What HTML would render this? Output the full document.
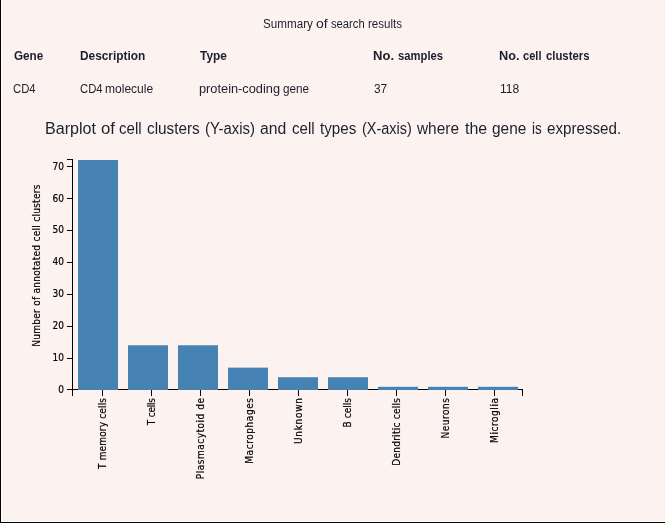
<!DOCTYPE html>
<html>
<head>
<meta charset="utf-8">
<title>Summary of search results</title>
<style>
html,body{margin:0;padding:0;}
body{width:665px;height:524px;overflow:hidden;background:#fcf3f1;position:relative;font-family:"Liberation Sans",sans-serif;color:#1c1f2c;}
#bl{position:absolute;left:0;top:0;width:1px;height:523px;background:#000;}
#bl2{position:absolute;left:1px;top:0;width:1px;height:522px;background:#fff;}
#bw{position:absolute;left:1px;top:521px;width:664px;height:1px;background:#fff;}
#bb{position:absolute;left:0;top:522px;width:665px;height:1px;background:#000;}
#bb2{position:absolute;left:0;top:523px;width:665px;height:1px;background:#fff;}
.t{position:absolute;white-space:nowrap;line-height:1;transform-origin:0 50%;}
.w{position:absolute;left:0;top:0;white-space:nowrap;transform-origin:0 50%;}
.s13{font-size:12px;}
.b{font-weight:bold;}
#title{font-size:16px;}
svg{position:absolute;left:0;top:0;}
svg text{font-family:"DejaVu Sans Condensed","DejaVu Sans","Liberation Sans",sans-serif;font-stretch:condensed;font-size:10px;fill:#000;stroke:#000;stroke-width:0.18px;}
</style>
</head>
<body>
<div id="bl"></div><div id="bl2"></div><div id="bw"></div><div id="bb"></div><div id="bb2"></div>

<div class="t s13" id="cap" style="left:0;top:18px;"><span class="w" style="left:262.71px;transform:scaleX(0.9714)">Summary</span> <span class="w" style="left:316.12px;transform:scaleX(1.1684)">of</span> <span class="w" style="left:330.77px;transform:scaleX(0.9343)">search</span> <span class="w" style="left:368.18px;transform:scaleX(0.9606)">results</span></div>

<div class="t s13 b" id="h1" style="left:0;top:50px;"><span class="w" style="left:13.51px;transform:scaleX(0.9744)">Gene</span></div>
<div class="t s13 b" id="h2" style="left:0;top:50px;"><span class="w" style="left:79.56px;transform:scaleX(0.9891)">Description</span></div>
<div class="t s13 b" id="h3" style="left:0;top:50px;"><span class="w" style="left:200.10px;transform:scaleX(0.9907)">Type</span></div>
<div class="t s13 b" id="h4" style="left:0;top:50px;"><span class="w" style="left:373.28px;transform:scaleX(1.0873)">No.</span> <span class="w" style="left:397.73px;transform:scaleX(0.9376)">samples</span></div>
<div class="t s13 b" id="h5" style="left:0;top:50px;"><span class="w" style="left:499.31px;transform:scaleX(1.0592)">No.</span> <span class="w" style="left:523.24px;transform:scaleX(0.9227)">cell</span> <span class="w" style="left:545.53px;transform:scaleX(0.9436)">clusters</span></div>

<div class="t s13" id="c1" style="left:0;top:83px;"><span class="w" style="left:13.43px;transform:scaleX(0.9419)">CD4</span></div>
<div class="t s13" id="c2" style="left:0;top:83px;"><span class="w" style="left:79.53px;transform:scaleX(0.9419)">CD4</span> <span class="w" style="left:105.15px;transform:scaleX(1.0032)">molecule</span></div>
<div class="t s13" id="c3" style="left:0;top:83px;"><span class="w" style="left:199.30px;transform:scaleX(1.0658)">protein-coding</span> <span class="w" style="left:282.91px;transform:scaleX(0.9786)">gene</span></div>
<div class="t s13" id="c4" style="left:0;top:83px;"><span class="w" style="left:373.61px;transform:scaleX(0.9878)">37</span></div>
<div class="t s13" id="c5" style="left:0;top:83px;"><span class="w" style="left:500.05px;transform:scaleX(1.0000)">118</span></div>

<div class="t" id="title" style="left:0;top:121px;"><span class="w" style="left:44.74px;transform:scaleX(1.0040)">Barplot</span> <span class="w" style="left:100.68px;transform:scaleX(1.0462)">of</span> <span class="w" style="left:119.23px;transform:scaleX(0.9422)">cell</span> <span class="w" style="left:146.92px;transform:scaleX(0.9574)">clusters</span> <span class="w" style="left:204.97px;transform:scaleX(0.9295)">(Y-axis)</span> <span class="w" style="left:260.31px;transform:scaleX(0.9822)">and</span> <span class="w" style="left:291.63px;transform:scaleX(0.9422)">cell</span> <span class="w" style="left:319.56px;transform:scaleX(0.9493)">types</span> <span class="w" style="left:361.60px;transform:scaleX(0.9033)">(X-axis)</span> <span class="w" style="left:417.40px;transform:scaleX(0.9628)">where</span> <span class="w" style="left:464.75px;transform:scaleX(0.9953)">the</span> <span class="w" style="left:491.92px;transform:scaleX(0.9652)">gene</span> <span class="w" style="left:531.66px;transform:scaleX(0.8400)">is</span> <span class="w" style="left:546.93px;transform:scaleX(0.9469)">expressed.</span></div>

<svg width="665" height="524" viewBox="0 0 665 524">
  <g fill="none" stroke="#000" stroke-width="1" shape-rendering="crispEdges">
    <path d="M66.5,159.5H72.5V389.5H66.5"/>
    <path d="M72.5,395.5V389.5H522.5V395.5"/>
    <line x1="66.5" x2="72.5" y1="389.5" y2="389.5"/>
    <line x1="66.5" x2="72.5" y1="358.5" y2="358.5"/>
    <line x1="66.5" x2="72.5" y1="326.5" y2="326.5"/>
    <line x1="66.5" x2="72.5" y1="294.5" y2="294.5"/>
    <line x1="66.5" x2="72.5" y1="262.5" y2="262.5"/>
    <line x1="66.5" x2="72.5" y1="230.5" y2="230.5"/>
    <line x1="66.5" x2="72.5" y1="198.5" y2="198.5"/>
    <line x1="66.5" x2="72.5" y1="166.5" y2="166.5"/>
    <line x1="102.5" x2="102.5" y1="389.5" y2="395.5"/>
    <line x1="151.5" x2="151.5" y1="389.5" y2="395.5"/>
    <line x1="200.5" x2="200.5" y1="389.5" y2="395.5"/>
    <line x1="249.5" x2="249.5" y1="389.5" y2="395.5"/>
    <line x1="298.5" x2="298.5" y1="389.5" y2="395.5"/>
    <line x1="347.5" x2="347.5" y1="389.5" y2="395.5"/>
    <line x1="396.5" x2="396.5" y1="389.5" y2="395.5"/>
    <line x1="445.5" x2="445.5" y1="389.5" y2="395.5"/>
    <line x1="494.5" x2="494.5" y1="389.5" y2="395.5"/>
  </g>
  <g fill="#4682b4">
    <rect x="78" y="160.00" width="40" height="230.00"/>
    <rect x="128" y="345.28" width="40" height="44.72"/>
    <rect x="178" y="345.28" width="40" height="44.72"/>
    <rect x="228" y="367.64" width="40" height="22.36"/>
    <rect x="278" y="377.22" width="40" height="12.78"/>
    <rect x="328" y="377.22" width="40" height="12.78"/>
    <rect x="378" y="386.81" width="40" height="3.19"/>
    <rect x="428" y="386.81" width="40" height="3.19"/>
    <rect x="478" y="386.81" width="40" height="3.19"/>
  </g>
  <g text-anchor="end">
    <text x="64" y="393">0</text>
    <text x="64" y="361">10</text>
    <text x="64" y="329">20</text>
    <text x="64" y="297">30</text>
    <text x="64" y="265">40</text>
    <text x="64" y="233">50</text>
    <text x="64" y="202">60</text>
    <text x="64" y="170">70</text>
  </g>
  <g text-anchor="end">
    <text transform="translate(106,398) rotate(-90)" textLength="71.0">T memory cells</text>
    <text transform="translate(155,398) rotate(-90)" textLength="27.3">T cells</text>
    <text transform="translate(204,398) rotate(-90)" textLength="81.3">Plasmacytoid de</text>
    <text transform="translate(253,398) rotate(-90)" textLength="65.7">Macrophages</text>
    <text transform="translate(302,398) rotate(-90)" textLength="46.1">Unknown</text>
    <text transform="translate(351,398) rotate(-90)" textLength="29.4">B cells</text>
    <text transform="translate(400,398) rotate(-90)" textLength="67.8">Dendritic cells</text>
    <text transform="translate(449,398) rotate(-90)" textLength="40.6">Neurons</text>
    <text transform="translate(498,398) rotate(-90)" textLength="44.9">Microglia</text>
  </g>
  <text text-anchor="start" transform="translate(40.1,346.8) rotate(-90)" textLength="162.2">Number of annotated cell clusters</text>
</svg>
</body>
</html>
